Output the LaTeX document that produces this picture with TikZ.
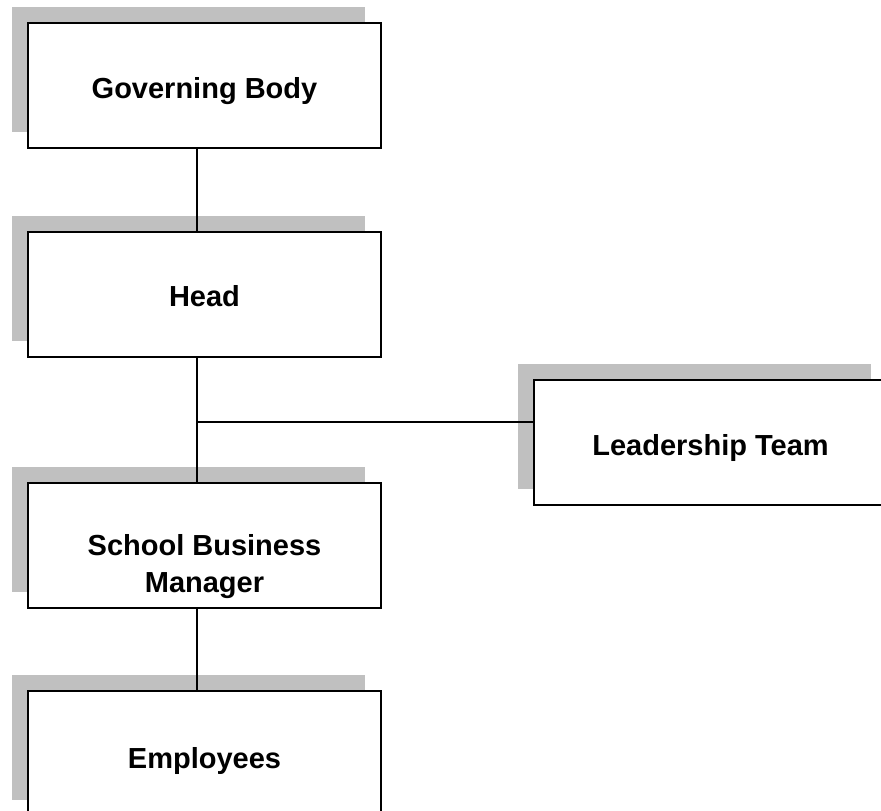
\documentclass[tikz,border=0pt]{standalone}
\usepackage{fontspec}
\setmainfont{Liberation Sans}
\begin{document}
\begin{tikzpicture}[x=1pt,y=-1pt,
  orgbox/.style={draw=black, line width=1.6pt, fill=white, minimum width=353pt, minimum height=125pt, inner sep=0pt, outer sep=0pt},
  shadowbox/.style={fill=shadowgray, draw=none, minimum width=353pt, minimum height=125pt, inner sep=0pt, outer sep=0pt},
  label/.style={font=\bfseries\fontsize{29}{36}\selectfont, anchor=base, inner sep=0pt, align=center},
  link/.style={draw=black, line width=1.2pt}]
\definecolor{shadowgray}{HTML}{C0C0C0}
\useasboundingbox (0,0) rectangle (881,811);
\clip (0,0) rectangle (881,811);

% drop shadows, offset up and to the left
\node[shadowbox] (govS)  at (188.5,69.5) {};
\node[shadowbox] (headS) at (188.5,278.5) {};
\node[shadowbox] (sbmS)  at (188.5,529.5) {};
\node[shadowbox] (empS)  at (188.5,737.5) {};
\node[shadowbox] (leadS) at (694.5,426.5) {};

% trunk line of the chart
\coordinate (trunk) at (197,0);
\coordinate (branch) at (197,422);

% boxes
\node[orgbox] (gov)  at (204.5,85.5) {};
\node[orgbox] (head) at (204.5,294.5) {};
\node[orgbox] (sbm)  at (204.5,545.5) {};
\node[orgbox] (emp)  at (204.5,753.5) {};
\node[orgbox] (lead) at (710.5,442.5) {};

% connectors
\draw[link] (gov.south -| trunk) -- (head.north -| trunk);
\draw[link] (head.south -| trunk) -- (sbm.north -| trunk);
\draw[link] (sbm.south -| trunk) -- (emp.north -| trunk);
\draw[link] (branch) -- (lead.west |- branch);

% box titles
\node[label] (govT)  at (204.5,98) {Governing Body};
\node[label] (headT) at (204.5,306) {Head};
\node[label] (sbmT)  at (204.5,555) {School Business};
\node[label] (sbmT2) at (204.5,592) {Manager};
\node[label] (empT)  at (204.5,768) {Employees};
\node[label] (leadT) at (710.5,455) {Leadership Team};
\end{tikzpicture}
\end{document}
